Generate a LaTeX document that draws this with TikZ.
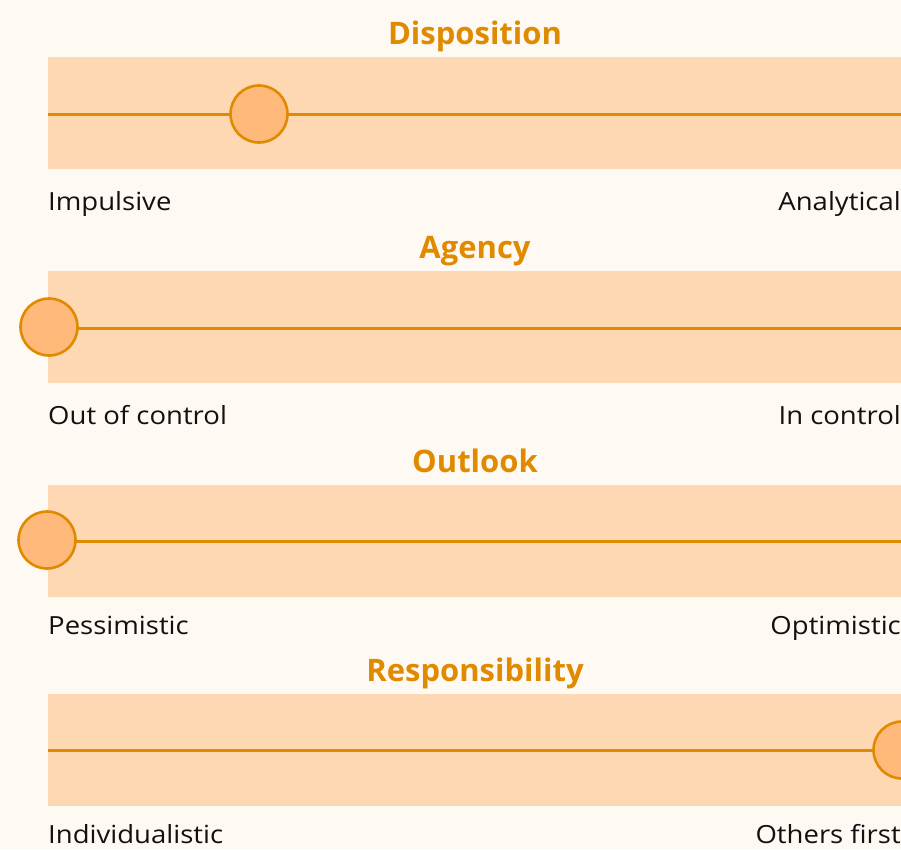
\documentclass[tikz,border=0pt]{standalone}
\usepackage{fontspec}
\setmainfont{Open Sans}
\newfontfamily\lblfont[FakeStretch=1.1]{Open Sans}
\definecolor{bgc}{HTML}{FFF9F3}
\definecolor{bandc}{HTML}{FDD8B2}
\definecolor{linec}{HTML}{E08A00}
\definecolor{knobc}{HTML}{FFB97A}
\definecolor{txtc}{HTML}{111111}
\begin{document}
\begin{tikzpicture}[x=1pt,y=-1pt,
  band/.style={fill=bandc,draw=none},
  track/.style={draw=linec,line width=3pt},
  knob/.style={circle,minimum size=57pt,inner sep=0pt,fill=knobc,draw=linec,line width=2.6pt},
  ttl/.style={font=\fontsize{31}{33}\selectfont\bfseries,text=linec,anchor=base,inner sep=0pt},
  lbl/.style={font=\lblfont\fontsize{25}{28}\selectfont,text=txtc,anchor=base west,inner sep=0pt},
  lblr/.style={font=\lblfont\fontsize{25}{28}\selectfont,text=txtc,anchor=base east,inner sep=0pt}]
\fill[bgc] (0,0) rectangle (901,849);
\useasboundingbox (0,0) rectangle (901,849);
\clip (0,0) rectangle (901,849);
% Disposition
\node[ttl] (t1) at (475,44) {Disposition};
\fill[band] (48,57) rectangle (910,169);
\coordinate (s1) at (48,114);
\coordinate (e1) at (910,114);
\draw[track] (s1) -- (e1);
\node[knob] (k1) at (259,114) {};
\node[lbl] (l1a) at (48,210) {Impulsive};
\node[lblr] (l1b) at (901,210) {Analytical};
% Agency
\node[ttl] (t2) at (475,258) {Agency};
\fill[band] (48,271) rectangle (910,383);
\coordinate (s2) at (48,328);
\coordinate (e2) at (910,328);
\draw[track] (s2) -- (e2);
\node[knob] (k2) at (49,327) {};
\node[lbl] (l2a) at (48,424) {Out of control};
\node[lblr] (l2b) at (901,424) {In control};
% Outlook
\node[ttl] (t3) at (475,472) {Outlook};
\fill[band] (48,485) rectangle (910,597);
\coordinate (s3) at (48,541);
\coordinate (e3) at (910,541);
\draw[track] (s3) -- (e3);
\node[knob] (k3) at (47,540) {};
\node[lbl] (l3a) at (48,634) {Pessimistic};
\node[lblr] (l3b) at (901,634) {Optimistic};
% Responsibility
\node[ttl] (t4) at (475,681) {Responsibility};
\fill[band] (48,694) rectangle (910,806);
\coordinate (s4) at (48,750);
\coordinate (e4) at (910,750);
\draw[track] (s4) -- (e4);
\node[knob] (k4) at (902,750) {};
\node[lbl] (l4a) at (48,843) {Individualistic};
\node[lblr] (l4b) at (901,843) {Others first};
\end{tikzpicture}
\end{document}
